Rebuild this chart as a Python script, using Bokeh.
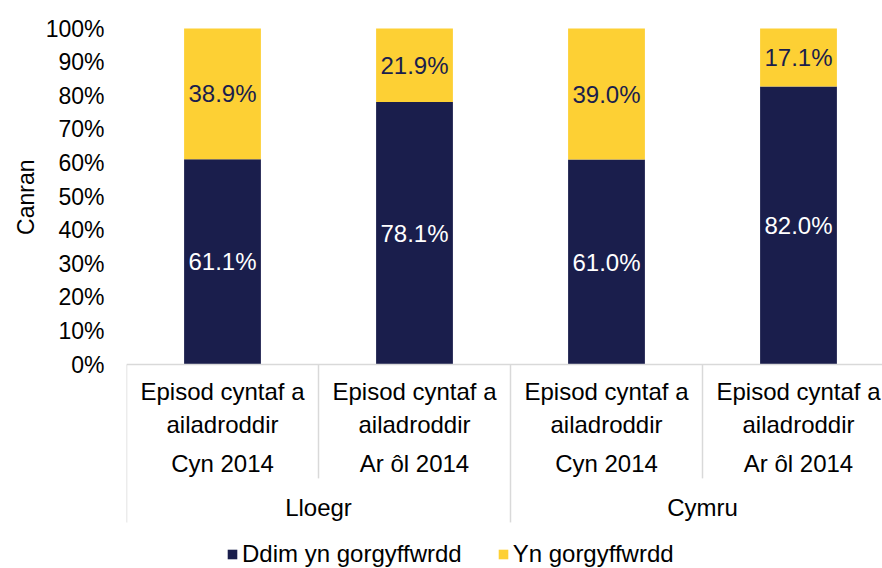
from bokeh.plotting import figure
from bokeh.models import (ColumnDataSource, FixedTicker, PrintfTickFormatter, Legend,
                          LegendItem, Range1d, Title)
from bokeh.core.properties import value
from bokeh.embed import file_html
from bokeh.resources import INLINE

# ---- data ----
subcats = ["Episod cyntaf a\nailadroddir"] * 4
periods = ["Cyn 2014", "Ar ôl 2014", "Cyn 2014", "Ar ôl 2014"]
countries = ["Lloegr", "Cymru"]
not_overlap = [61.1, 78.1, 61.0, 82.0]   # Ddim yn gorgyffwrdd
overlap = [38.9, 21.9, 39.0, 17.1]       # Yn gorgyffwrdd
series_names = ["Ddim yn gorgyffwrdd", "Yn gorgyffwrdd"]
y_ticks = [0, 10, 20, 30, 40, 50, 60, 70, 80, 90, 100]
y_title = "Canran"

NAVY = "#1A1E4C"
YELLOW = "#FDD034"
GRID = "#D9D9D9"
FONT = "Liberation Sans"
FS = "24px"

n = len(periods)
xs = [i + 0.5 for i in range(n)]
tot = [a + b for a, b in zip(not_overlap, overlap)]
s0 = [a / t * 100 for a, t in zip(not_overlap, tot)]   # 100% stacked shares
s1 = [b / t * 100 for b, t in zip(overlap, tot)]
src = ColumnDataSource(dict(
    x=xs,
    b0=[0] * n, t0=s0,
    b1=s0, t1=[a + b for a, b in zip(s0, s1)],
    m0=[v / 2 for v in s0],
    m1=[a + b / 2 for a, b in zip(s0, s1)],
    l0=[f"{v:.1f}%" for v in not_overlap],
    l1=[f"{v:.1f}%" for v in overlap],
    sub=subcats, per=periods,
))

PX = 192.0   # pixels per category
PY = 3.36    # pixels per percent
p = figure(width=882, height=568, output_backend="svg", toolbar_location=None,
           x_range=Range1d(0, 756 / PX), y_range=Range1d(-204 / PY, 364 / PY),
           x_axis_location=None, min_border_left=126, min_border_right=0,
           min_border_top=0, min_border_bottom=0)
p.outline_line_color = None
p.grid.visible = False
p.background_fill_color = "white"

r0 = p.vbar(x="x", width=0.4, bottom="b0", top="t0", source=src, fill_color=NAVY, line_color=None)
r1 = p.vbar(x="x", width=0.4, bottom="b1", top="t1", source=src, fill_color=YELLOW, line_color=None)

p.text(x="x", y="m0", text="l0", source=src, text_color="white", text_font=value(FONT),
       text_font_size="24px", text_align="center", text_baseline="middle")
p.text(x="x", y="m1", text="l1", source=src, text_color=NAVY, text_font=value(FONT),
       text_font_size="24px", text_align="center", text_baseline="middle")

# category table below the axis
p.segment(x0=[0], y0=[0], x1=[4], y1=[0], line_color=GRID, line_width=1.5)
p.segment(x0=[0, 2, 4], y0=[0, 0, 0], x1=[0, 2, 4], y1=[-47, -47, -47], line_color=GRID, line_width=1.5)
p.segment(x0=[1, 3], y0=[0, 0], x1=[1, 3], y1=[-33.9, -33.9], line_color=GRID, line_width=1.5)

p.text(x="x", y=-12.9, text="sub", source=src, text_color="black", text_font=value(FONT),
       text_font_size=FS, text_align="center", text_baseline="middle", text_line_height=1.2)
p.text(x="x", y=-29.6, text="per", source=src, text_color="black", text_font=value(FONT),
       text_font_size=FS, text_align="center", text_baseline="middle")
p.text(x=[1.0, 3.0], y=[-42.6, -42.6], text=countries, text_color="black", text_font=value(FONT),
       text_font_size=FS, text_align="center", text_baseline="middle")

# y axis
ax = p.yaxis[0]
ax.ticker = FixedTicker(ticks=y_ticks)
ax.formatter = PrintfTickFormatter(format="%d%%")
ax.axis_line_color = None
ax.major_tick_line_color = None
ax.minor_tick_line_color = None
ax.major_tick_out = 0
ax.major_tick_in = 0
ax.major_label_standoff = 22
ax.major_label_text_font = FONT
ax.major_label_text_font_size = "23px"
ax.major_label_text_color = "black"

p.add_layout(Title(text=y_title, align="right", offset=159, standoff=8,
                   text_font=FONT, text_font_size="23px", text_font_style="normal",
                   text_color="black"), "left")

legend = Legend(items=[LegendItem(label=series_names[0], renderers=[r0]),
                       LegendItem(label=series_names[1], renderers=[r1])],
                orientation="horizontal", location=(100, 0),
                glyph_width=12, glyph_height=12, label_standoff=4, spacing=35,
                padding=0, margin=0, border_line_color=None, background_fill_alpha=0,
                label_text_font=FONT, label_text_font_size=FS, label_text_color="black")
p.add_layout(legend, "center")

open("out.html", "w").write(file_html(p, INLINE))
